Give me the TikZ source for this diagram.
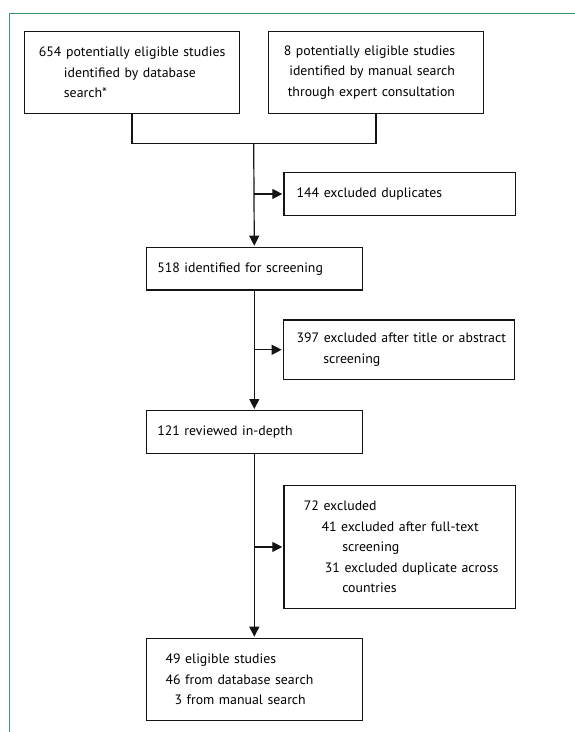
\documentclass[tikz,border=0pt]{standalone}
\usepackage{fontspec}
\newfontfamily\basefam{PT Sans}
\usetikzlibrary{arrows.meta}
\definecolor{framegreen}{RGB}{58,150,106}
\definecolor{boxline}{RGB}{20,20,20}
\newcommand\bxline[2]{\hspace*{#1pt}\mbox{#2}}
\newsavebox\measbox
\newlength\measlen
\newlength\xhlen
\begin{document}
\sbox\measbox{\basefam\fontsize{10pt}{12pt}\selectfont 654 potentially eligible studies}%
\setlength\measlen{\wd\measbox}%
{\basefam\fontsize{10pt}{12pt}\selectfont\global\xhlen=\fontdimen5\font}%
\pgfmathsetmacro\bxfs{68/\xhlen}%
\pgfmathsetmacro\bxst{184/(\measlen*\bxfs/10)}%
\newfontfamily\bxfam[FakeStretch=\bxst]{PT Sans}%
\begin{tikzpicture}[x=1pt,y=-1pt]
\tikzset{
  box/.style={draw=boxline, line width=1.2pt, inner sep=0pt, anchor=north west, align=left,
    font=\bxfam\fontsize{\bxfs pt}{20.5pt}\selectfont},
  conn/.style={draw=boxline, line width=1.2pt},
  arr/.style={conn, -{Triangle[length=10pt,width=10pt]}, shorten >=1pt},
}
\useasboundingbox (0,0) rectangle (575,732);
\draw[framegreen, line width=1pt] (9,732) -- (9,13.3) -- (575,13.3);

\node[box, text width=215.3pt, minimum height=81.7pt] (b1) at (23.7,31)
  {\bxline{14.6}{654 potentially eligible studies}\\\bxline{39.6}{identified by database}\\\bxline{39.6}{search*}};
\node[box, text width=215.3pt, minimum height=81.7pt] (b2) at (267.7,31)
  {\bxline{15.6}{8 potentially eligible studies}\\\bxline{21}{identified by manual search}\\\bxline{19.5}{through expert consultation}};
\node[box, text width=231.7pt, minimum height=43.3pt] (b144) at (283.3,171.7)
  {\bxline{12.7}{144 excluded duplicates}};
\node[box, text width=216pt, minimum height=42.6pt] (b518) at (145.7,246.7)
  {\bxline{11}{518 identified for screening}};
\node[box, text width=231.3pt, minimum height=59.7pt] (b397) at (282.7,319.3)
  {\bxline{13.3}{397 excluded after title or abstract}\\\bxline{40}{screening}};
\node[box, text width=216pt, minimum height=43pt] (b121) at (145.7,410)
  {\bxline{11}{121 reviewed in-depth}};
\node[box, text width=231.7pt, minimum height=122.7pt] (b72) at (283.3,485)
  {\bxline{20}{72 excluded}\\\bxline{37.7}{41 excluded after full-text}\\\bxline{58.4}{screening}\\\bxline{41}{31 excluded duplicate across}\\\bxline{58.4}{countries}};
\node[box, text width=216pt, minimum height=82.3pt] (b49) at (145.7,637.7)
  {\bxline{19.3}{49 eligible studies}\\\bxline{19.3}{46 from database search}\\\bxline{28.3}{3 from manual search}};

\coordinate (j) at (253.7,143.3);
\draw[conn] (b1.south) |- (j) -| (b2.south);
\draw[arr] (j) -- (b518.north);
\draw[arr] (b518.south) -- (b121.north);
\draw[arr] (b121.south) -- (b49.north);
\draw[arr] (b144.west -| j) -- (b144.west);
\draw[arr] (b397.west -| b518.south) -- (b397.west);
\draw[arr] (b72.west -| b121.south) -- (b72.west);
\end{tikzpicture}
\end{document}
